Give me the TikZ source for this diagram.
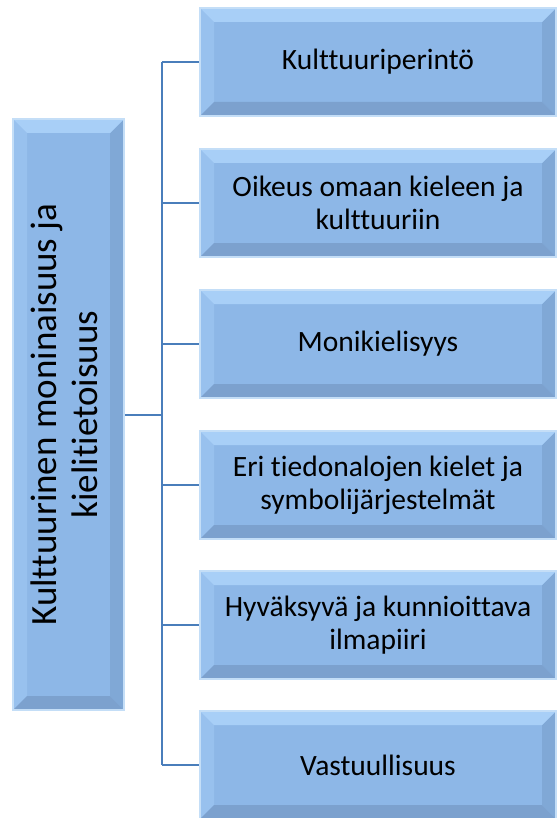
\documentclass[tikz,border=0pt]{standalone}
\usepackage{fontspec}
\setmainfont{Carlito}[Ligatures=NoCommon]
\usetikzlibrary{calc}
\definecolor{boxfill}{HTML}{8DB7E7}
\definecolor{bevtop}{HTML}{A8CFF7}
\definecolor{bevleft}{HTML}{98C1EE}
\definecolor{bevright}{HTML}{80A8D6}
\definecolor{bevbot}{HTML}{7CA1CE}
\definecolor{boxedge}{HTML}{C4DEF7}
\definecolor{linkcol}{HTML}{4A7EBB}
\tikzset{
  bev/.style={draw=boxedge, line width=1.5pt, fill=boxfill, inner sep=0pt,
    font=\fontsize{29.5}{33}\selectfont, align=center,
    path picture={
      \path (path picture bounding box.north west) coordinate (pnw)
            (path picture bounding box.north east) coordinate (pne)
            (path picture bounding box.south west) coordinate (psw)
            (path picture bounding box.south east) coordinate (pse);
      \fill[bevleft] (pnw) -- (psw) -- ([shift={(14pt,14pt)}]psw) -- ([shift={(14pt,-14pt)}]pnw) -- cycle;
      \fill[bevright] (pne) -- (pse) -- ([shift={(-14pt,14pt)}]pse) -- ([shift={(-14pt,-14pt)}]pne) -- cycle;
      \fill[bevtop] (pnw) -- (pne) -- ([shift={(-14pt,-14pt)}]pne) -- ([shift={(14pt,-14pt)}]pnw) -- cycle;
      \fill[bevbot] (psw) -- (pse) -- ([shift={(-14pt,14pt)}]pse) -- ([shift={(14pt,14pt)}]psw) -- cycle;
    }},
  rbox/.style={bev, minimum width=356pt, minimum height=108pt},
  lbox/.style={bev, minimum width=111pt, minimum height=591pt, font=\fontsize{37}{41}\selectfont},
  link/.style={draw=linkcol, line width=2pt}
}
\begin{document}
\begin{tikzpicture}[x=1pt,y=-1pt]
\useasboundingbox (0,0) rectangle (558,818);
\node[lbox] (L) at (68.5,414.5) {\rotatebox{90}{\begin{tabular}{@{}c@{}}Kulttuurinen moninaisuus ja\\kielitietoisuus\end{tabular}}};
\node[rbox] (R1) at (378,62) {Kulttuuriperintö};
\node[rbox] (R2) at (378,203) {Oikeus omaan kieleen ja\\kulttuuriin};
\node[rbox] (R3) at (378,344) {Monikielisyys};
\node[rbox] (R4) at (378,485) {Eri tiedonalojen kielet ja\\symbolijärjestelmät};
\node[rbox] (R5) at (378,625) {Hyväksyvä ja kunnioittava\\ilmapiiri};
\node[rbox] (R6) at (378,765) {Vastuullisuus};
\coordinate (bus) at (162,414.5);
\draw[link] (L.east) -- (bus);
\draw[link] (bus |- R1.west) -- (bus |- R6.west);
\foreach \n in {R1,R2,R3,R4,R5,R6} {
  \draw[link] (bus |- \n.west) -- (\n.west);
}
\end{tikzpicture}
\end{document}
